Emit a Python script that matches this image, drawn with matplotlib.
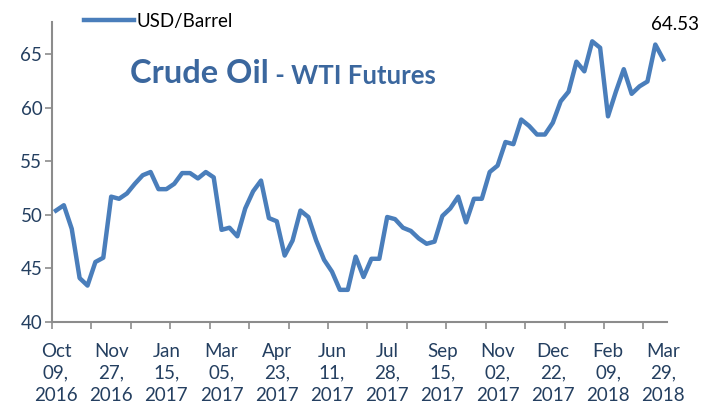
import numpy as np
import matplotlib.pyplot as plt

# weekly WTI futures closing prices (USD/Barrel)
prices = [50.4, 50.9, 48.7, 44.1, 43.4, 45.6, 46.0, 51.7, 51.5, 52.0,
          52.9, 53.7, 54.0, 52.4, 52.4, 52.9, 53.9, 53.9, 53.4, 54.0,
          53.5, 48.6, 48.8, 48.0, 50.6, 52.2, 53.2, 49.7, 49.4, 46.2,
          47.6, 50.4, 49.8, 47.6, 45.8, 44.7, 43.0, 43.0, 46.1, 44.2,
          45.9, 45.9, 49.8, 49.6, 48.8, 48.5, 47.8, 47.3, 47.5, 49.9,
          50.6, 51.7, 49.3, 51.5, 51.5, 54.0, 54.6, 56.8, 56.6, 58.9,
          58.3, 57.5, 57.5, 58.6, 60.6, 61.5, 64.3, 63.4, 66.2, 65.6,
          59.2, 61.5, 63.6, 61.3, 62.0, 62.45, 65.9, 64.53]

date_labels = ['Oct\n09,\n2016', 'Nov\n27,\n2016', 'Jan\n15,\n2017', 'Mar\n05,\n2017',
               'Apr\n23,\n2017', 'Jun\n11,\n2017', 'Jul\n28,\n2017', 'Sep\n15,\n2017',
               'Nov\n02,\n2017', 'Dec\n22,\n2017', 'Feb\n09,\n2018', 'Mar\n29,\n2018']
label_step = 7
tick_step = 5

plt.rcParams['font.family'] = ['Lato', 'DejaVu Sans']

line_col = '#4A7EBB'
text_col = '#243F60'
axis_col = '#8C8C8C'
title_col = '#3B679E'

fig = plt.figure(figsize=(7.03, 4.16), dpi=100)
ax = fig.add_axes([0.074, 0.226, 0.875, 0.721])

x = np.arange(len(prices))
ax.plot(x, prices, color=line_col, lw=3.2, solid_joinstyle='round', label='USD/Barrel')

ax.set_xlim(-0.5, len(prices) - 0.5)
ax.set_ylim(40, 68)
ax.set_yticks([40, 45, 50, 55, 60, 65])

# tick marks between categories, labels on the categories
ax.set_xticks(np.arange(-0.5, len(prices) - 1, tick_step))
ax.set_xticklabels([])
ax.set_xticks(np.arange(0, len(prices), label_step), minor=True)
ax.set_xticklabels(date_labels, minor=True, linespacing=1.35)
ax.tick_params(axis='x', which='major', length=5, color=axis_col, width=1.2)
ax.tick_params(axis='x', which='minor', length=0, pad=15, labelsize=13.5, labelcolor=text_col)
ax.tick_params(axis='y', length=5, color=axis_col, width=1.2, labelsize=13.5,
               labelcolor=text_col, pad=2)

for s in ['top', 'right']:
    ax.spines[s].set_visible(False)
for s in ['left', 'bottom']:
    ax.spines[s].set_color(axis_col)
    ax.spines[s].set_linewidth(1.5)

leg = fig.legend(loc='upper left', bbox_to_anchor=(0.095, 1.01), frameon=False,
                 fontsize=13.5, handlelength=2.7, handletextpad=0.1)

t1 = fig.text(0.185, 0.80, 'Crude Oil', fontsize=23.5, fontweight='bold', color=title_col)
ax.annotate(' - WTI Futures', xycoords=t1, xy=(1, 0), va='bottom', fontsize=18.5,
            fontweight='bold', color=title_col)

ax.annotate(f'{prices[-1]:.2f}', xy=(len(prices) - 1, prices[-1]), xytext=(-9, 19),
            textcoords='offset points', va='bottom', fontsize=13.5, color='black',
            annotation_clip=False)

fig.savefig('out.png', dpi=100)
